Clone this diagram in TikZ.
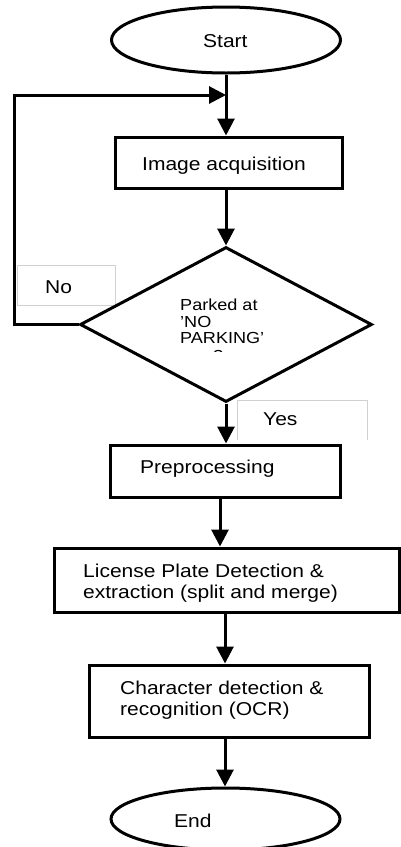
\documentclass[tikz,border=0pt]{standalone}
\usepackage{fontspec}
\setmainfont{Liberation Sans}[FakeStretch=1.13]
\usetikzlibrary{arrows.meta,shapes.geometric}
\begin{document}
\begin{tikzpicture}[x=1pt,y=-1pt,
  arr/.style={line width=3pt,-{Triangle[length=17pt,width=17pt]}},
  box/.style={draw,line width=3pt,inner sep=0pt},
  txt/.style={font=\fontsize{18.6}{23}\selectfont, inner sep=0pt, anchor=base west},
  dtxt/.style={font=\fontsize{16}{17}\selectfont, inner sep=0pt, anchor=base west},
  lbl/.style={draw=black!18,line width=0.8pt}]
\useasboundingbox (0,0) rectangle (400,847);
\fill[white] (0,0) rectangle (400,847);
% label boxes
\draw[lbl] (17,265) rectangle (115,305);
\node[txt] (nolbl) at (45,293) {No};
\draw[lbl] (237,440) -- (237,400) -- (367,400) -- (367,440);
\node[txt] (yeslbl) at (263,425) {Yes};
% nodes
\node[box, ellipse, minimum width=229pt, minimum height=66pt] (start) at (226,40) {};
\node[txt] (starttxt) at (203,47) {Start};
\node[box, minimum width=227pt, minimum height=51pt] (acq) at (228.5,162.5) {};
\node[txt] (acqtxt) at (142,170) {Image acquisition};
\node[box, diamond, fill=white, minimum width=292pt, minimum height=155pt] (dec) at (226,324.5) {};
\begin{scope}
\clip (150,290) rectangle (300,351);
\node[dtxt] (d1) at (180,310) {Parked at};
\node[dtxt] (d2) at (180,327) {'NO};
\node[dtxt] (d3) at (180,343) {PARKING'};
\node[dtxt] (d4) at (213,361) {?};
\end{scope}
\node[box, minimum width=230pt, minimum height=52pt] (pre) at (225,471) {};
\node[txt] (pretxt) at (140,473) {Preprocessing};
\node[box, minimum width=345pt, minimum height=64pt] (lic) at (226.5,580) {};
\node[txt] (lic1) at (83,577) {License Plate Detection \&};
\node[txt] (lic2) at (83,598) {extraction (split and merge)};
\node[box, minimum width=280pt, minimum height=72pt] (chr) at (229,701) {};
\node[txt] (chr1) at (120,694) {Character detection \&};
\node[txt] (chr2) at (120,715) {recognition (OCR)};
\node[box, ellipse, minimum width=229pt, minimum height=62pt] (end) at (225.5,819) {};
\node[txt] (endtxt) at (174,827) {End};
% connectors
\coordinate (j) at (226,95);
\coordinate (lp) at (14,95);
\draw[arr] (start.south) -- (start.south |- acq.north);
\draw[arr] (dec.west) -| (lp) -- (j);
\draw[arr] (acq.south -| dec.north) -- (dec.north);
\draw[arr] (dec.south) -- (dec.south |- pre.north);
\draw[arr] ([xshift=-5pt]pre.south) -- ([xshift=-5pt]pre.south |- lic.north);
\draw[arr] ([xshift=-1.5pt]lic.south) -- ([xshift=-1.5pt]lic.south |- chr.north);
\draw[arr] ([xshift=-4pt]chr.south) -- ([xshift=-4pt]chr.south |- end.north);
\end{tikzpicture}
\end{document}
